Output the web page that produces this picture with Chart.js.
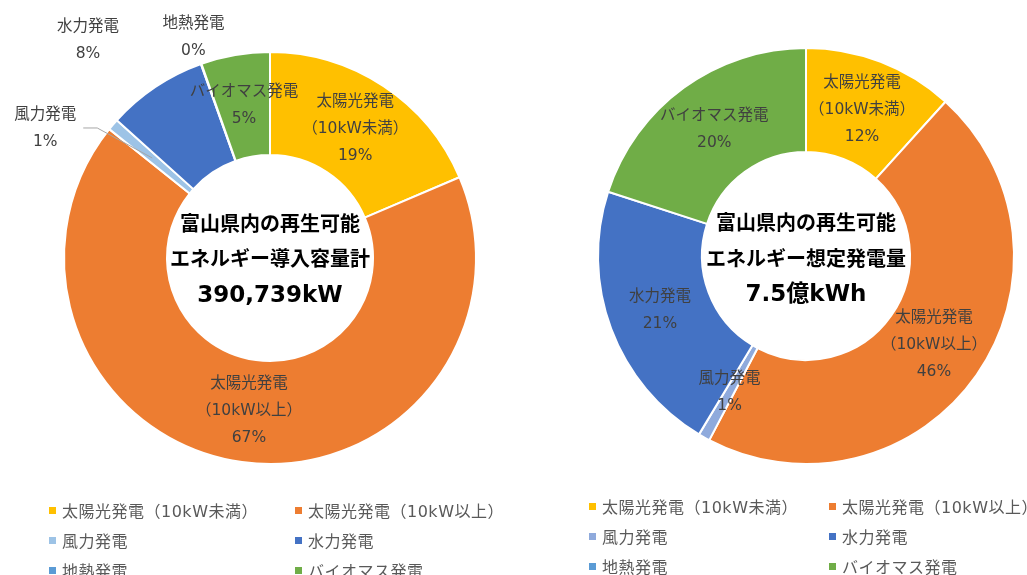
<!DOCTYPE html>
<html lang="ja">
<head>
<meta charset="UTF-8">
<title>富山県内の再生可能エネルギー</title>
<script src="https://cdn.jsdelivr.net/npm/chart.js"></script>
<style>
  body { margin: 0; background: #fff; font-family: "DejaVu Sans", "Noto Sans CJK JP", sans-serif; }
  .wrap { position: relative; width: 1027px; height: 575px; overflow: hidden; }
  .box { position: absolute; top: 0; height: 500px; }
  .legend { position: absolute; display: grid; font-size: 16px; color: #595959; letter-spacing: 0.5px; }
  .legend div { height: 30px; display: flex; align-items: center; white-space: nowrap; }
  .legend i { display: inline-block; flex-shrink: 0; width: 7px; height: 7px; margin-right: 6px; }
</style>
</head>
<body>
<div class="wrap">
  <div class="box" style="left:0;width:540px"><canvas id="capacityChart"></canvas></div>
  <div class="box" style="left:540px;width:487px"><canvas id="generationChart"></canvas></div>
  <div class="legend" id="legendLeft" style="left:49px;top:495px;grid-template-columns:246px 240px"></div>
  <div class="legend" id="legendRight" style="left:589px;top:491px;grid-template-columns:240px 200px"></div>
</div>

<script>
  // data (shares in %)
  const categories = ['太陽光発電（10kW未満）', '太陽光発電（10kW以上）', '風力発電', '水力発電', '地熱発電', 'バイオマス発電'];
  const capacityShare = [18.6, 67.2, 0.9, 7.9, 0.05, 5.4];
  const generationShare = [11.7, 46.0, 0.9, 21.4, 0, 20.0];
  const capacityTitle = ['富山県内の再生可能', 'エネルギー導入容量計', '390,739kW'];
  const generationTitle = ['富山県内の再生可能', 'エネルギー想定発電量', '7.5億kWh'];

  const colorsLeft = ['#FFC000', '#ED7D31', '#9DC3E6', '#4472C4', '#5B9BD5', '#70AD47'];
  const colorsRight = ['#FFC000', '#ED7D31', '#8FAADC', '#4472C4', '#5B9BD5', '#70AD47'];

  const FONT = '"DejaVu Sans", "Noto Sans CJK JP"';

  // slice labels: name (split at the bracket) + percent
  const sliceLabels = {
    id: 'sliceLabels',
    afterDatasetsDraw(chart, args, opts) {
      const ctx = chart.ctx;
      const values = chart.data.datasets[0].data;
      const total = values.reduce((a, b) => a + b, 0);
      const meta = chart.getDatasetMeta(0);
      ctx.save();
      ctx.font = '15.5px ' + FONT;
      ctx.textAlign = 'center';
      ctx.textBaseline = 'middle';
      meta.data.forEach((arc, i) => {
        if (!values[i]) return;
        const p = arc.tooltipPosition();
        const off = (opts.offsets || {})[i] || [0, 0];
        const x = p.x + off[0], y = p.y + off[1];
        const name = chart.data.labels[i];
        const k = name.indexOf('（');
        const lines = k > 0 ? [name.slice(0, k), name.slice(k)] : [name];
        lines.push(Math.round(values[i] / total * 100) + '%');
        if ((opts.leaders || []).includes(i)) {
          ctx.strokeStyle = '#A6A6A6';
          ctx.lineWidth = 1;
          ctx.beginPath();
          ctx.moveTo(x + 38, y);
          ctx.lineTo(x + 52, y);
          ctx.lineTo(p.x, p.y);
          ctx.stroke();
        }
        ctx.fillStyle = '#404040';
        const lh = 27;
        const y0 = y - (lines.length - 1) * lh / 2;
        lines.forEach((t, j) => ctx.fillText(t, x, y0 + j * lh));
      });
      ctx.restore();
    }
  };

  const centerText = {
    id: 'centerText',
    afterDraw(chart, args, opts) {
      const ctx = chart.ctx;
      const a = chart.chartArea;
      const cx = (a.left + a.right) / 2, cy = (a.top + a.bottom) / 2;
      ctx.save();
      ctx.fillStyle = '#000';
      ctx.textAlign = 'center';
      ctx.textBaseline = 'middle';
      ctx.font = 'bold 20px "Noto Sans CJK JP"';
      ctx.fillText(opts.lines[0], cx, cy + opts.dy[0]);
      ctx.fillText(opts.lines[1], cx, cy + opts.dy[1]);
      ctx.font = 'bold 23px ' + FONT;
      ctx.fillText(opts.lines[2], cx, cy + opts.dy[2]);
      ctx.restore();
    }
  };

  function makeChart(id, values, colors, padding, labelOpts, title, dy) {
    return new Chart(document.getElementById(id), {
      type: 'doughnut',
      data: {
        labels: categories,
        datasets: [{
          data: values,
          backgroundColor: colors,
          borderColor: '#fff',
          borderWidth: 2
        }]
      },
      options: {
        responsive: true,
        maintainAspectRatio: false,
        animation: false,
        cutout: '50%',
        layout: { padding: padding },
        plugins: {
          legend: { display: false },
          tooltip: { enabled: false },
          sliceLabels: labelOpts,
          centerText: { lines: title, dy: dy }
        }
      },
      plugins: [sliceLabels, centerText]
    });
  }

  makeChart('capacityChart', capacityShare, colorsLeft,
    { top: 51, bottom: 35, left: 63, right: 63 },
    { offsets: { 2: [-107, -30], 3: [-96, -89], 4: [-25, -75] }, leaders: [2] },
    capacityTitle, [-35, 0, 38]);

  makeChart('generationChart', generationShare, colorsRight,
    { top: 47, bottom: 35, left: 57, right: 12 },
    {},
    generationTitle, [-34, 2, 39]);

  // html legends
  function buildLegend(elId, colors) {
    const el = document.getElementById(elId);
    categories.forEach((c, i) => {
      const d = document.createElement('div');
      d.innerHTML = '<i style="background:' + colors[i] + '"></i>' + c;
      el.appendChild(d);
    });
  }
  buildLegend('legendLeft', colorsLeft);
  buildLegend('legendRight', colorsRight);
</script>
</body>
</html>
